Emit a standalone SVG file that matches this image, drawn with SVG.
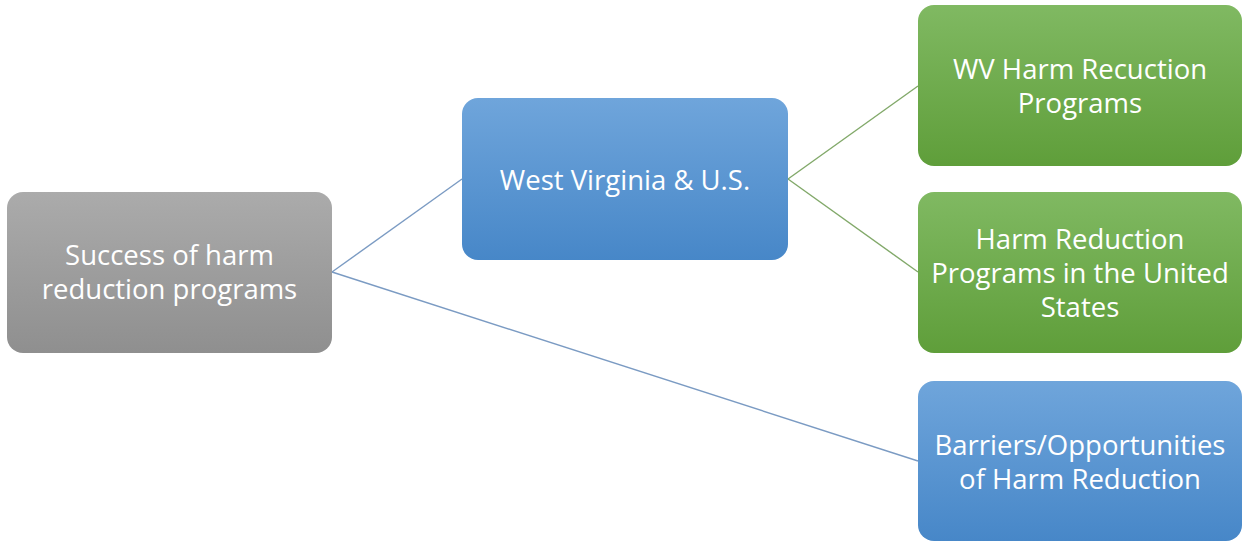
<svg xmlns="http://www.w3.org/2000/svg" width="1244" height="542" viewBox="0 0 1244 542">
  <defs>
    <linearGradient id="gGray" x1="0" y1="0" x2="0" y2="1">
      <stop offset="0" stop-color="#ababab"/>
      <stop offset="1" stop-color="#8f8f8f"/>
    </linearGradient>
    <linearGradient id="gBlue" x1="0" y1="0" x2="0" y2="1">
      <stop offset="0" stop-color="#6fa5db"/>
      <stop offset="1" stop-color="#4787c8"/>
    </linearGradient>
    <linearGradient id="gGreen" x1="0" y1="0" x2="0" y2="1">
      <stop offset="0" stop-color="#80b962"/>
      <stop offset="1" stop-color="#5f9e3a"/>
    </linearGradient>
  </defs>
  <style>
    .lbl { font-family: "Open Sans", "Noto Sans", sans-serif; font-size: 27.5px; fill: #ffffff; text-anchor: middle; }
    .cb { stroke: #7b9bc3; stroke-width: 1.4; fill: none; }
    .cg { stroke: #82a96a; stroke-width: 1.4; fill: none; }
  </style>
  <rect width="1244" height="542" fill="#ffffff"/>
  <g id="connectors">
    <line class="cb" x1="332" y1="272" x2="462" y2="179"/>
    <line class="cb" x1="332" y1="272" x2="918" y2="461"/>
    <line class="cg" x1="788" y1="179" x2="918" y2="86"/>
    <line class="cg" x1="788" y1="179" x2="918" y2="272"/>
  </g>
  <g id="node-success">
    <rect x="7" y="192" width="325" height="161" rx="16" fill="url(#gGray)"/>
    <text class="lbl" x="169.5" y="265">Success of harm</text>
    <text class="lbl" x="169.5" y="299">reduction programs</text>
  </g>
  <g id="node-wvus">
    <rect x="462" y="98" width="326" height="162" rx="16" fill="url(#gBlue)"/>
    <text class="lbl" x="625" y="190">West Virginia &amp; U.S.</text>
  </g>
  <g id="node-wvharm">
    <rect x="918" y="5" width="324" height="161" rx="16" fill="url(#gGreen)"/>
    <text class="lbl" x="1080" y="79">WV Harm Recuction</text>
    <text class="lbl" x="1080" y="113">Programs</text>
  </g>
  <g id="node-usharm">
    <rect x="918" y="192" width="324" height="161" rx="16" fill="url(#gGreen)"/>
    <text class="lbl" x="1080" y="249">Harm Reduction</text>
    <text class="lbl" x="1080" y="283">Programs in the United</text>
    <text class="lbl" x="1080" y="317">States</text>
  </g>
  <g id="node-barriers">
    <rect x="918" y="381" width="324" height="160" rx="16" fill="url(#gBlue)"/>
    <text class="lbl" x="1080" y="455">Barriers/Opportunities</text>
    <text class="lbl" x="1080" y="489">of Harm Reduction</text>
  </g>
</svg>
